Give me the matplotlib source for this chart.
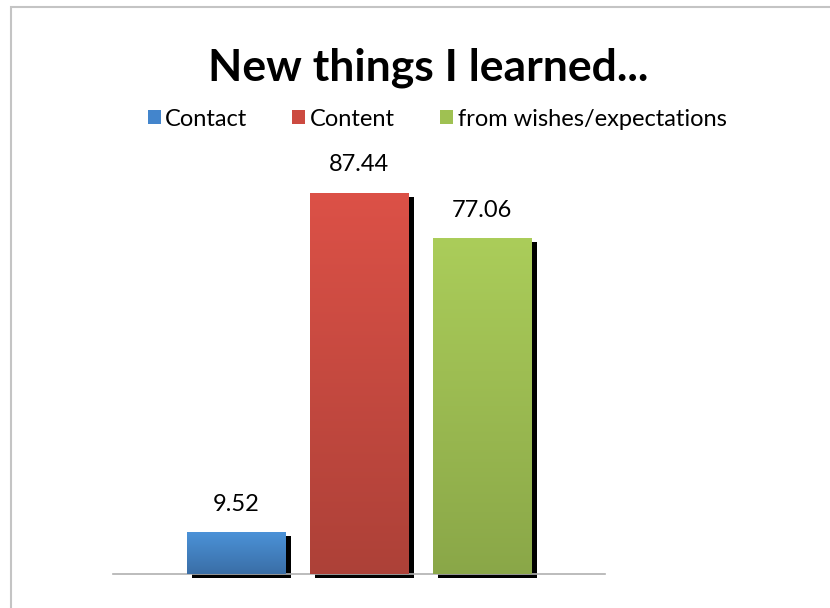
import matplotlib
matplotlib.use("Agg")
import matplotlib.pyplot as plt
import matplotlib.transforms as mtransforms
import matplotlib.patches as mpatches
import numpy as np
from matplotlib.colors import LinearSegmentedColormap

series = ["Contact", "Content", "from wishes/expectations"]
values = [9.52, 87.44, 77.06]
top_colors = ["#4b92d8", "#dc5147", "#abcd5a"]
bot_colors = ["#3a6ea6", "#ad4138", "#8aa748"]
legend_colors = ["#4385cc", "#cc4a40", "#9fc152"]

plt.rcParams['font.family'] = ['Lato', 'DejaVu Sans']

fig = plt.figure(figsize=(8.3, 6.08), dpi=100)
W, H = 830, 608
ax = fig.add_axes([113/W, (H-574)/H, (605-113)/W, (574-138)/H])
ax.set_xlim(-1, 3)
ax.set_ylim(0, 100)
ax.axis('off')

x = np.arange(len(values))
width = 99/123

# shadows
shadow_tr = mtransforms.offset_copy(ax.transData, fig=fig, x=5/100*72, y=-4/100*72, units='points')
shadows = ax.bar(x, values, width=width, color='black', zorder=1, transform=shadow_tr)
for s in shadows:
    s.set_clip_on(False)

ax.axhline(0, color='#b0b0b0', lw=1.2, zorder=2, clip_on=False)

bars = ax.bar(x, values, width=width, color=top_colors, zorder=3)
grad = np.linspace(0, 1, 256).reshape(-1, 1)
for b, tc, bc in zip(bars, top_colors, bot_colors):
    cmap = LinearSegmentedColormap.from_list('g', [bc, tc])
    x0, y0 = b.get_x(), b.get_y()
    im = ax.imshow(grad, cmap=cmap, aspect='auto', origin='lower',
                   extent=[x0, x0 + b.get_width(), y0, y0 + b.get_height()], zorder=4)
    im.set_clip_path(b)

for xi, v in zip(x, values):
    ax.annotate(f"{v:.2f}", (xi, v), xytext=(0, 20), textcoords='offset points',
                ha='center', va='center', fontsize=17, color='black')

ax.set_xlim(-1, 3)
ax.set_ylim(0, 100)

fig.text(428/W, 1 - 68/H, "New things I learned...", ha='center', va='center',
         fontsize=32, fontweight='bold')

handles = [mpatches.Patch(facecolor=c, edgecolor='none') for c in legend_colors]
leg = fig.legend(handles, series, loc='center', bbox_to_anchor=(437/W, 1 - 119/H),
                 ncol=3, frameon=False, fontsize=17, handlelength=0.55, handleheight=0.55,
                 handletextpad=0.2, columnspacing=1.9, borderpad=0, borderaxespad=0)

border = mpatches.Rectangle((10.5/W, -0.1), 1.2, 1 - 6.5/H + 0.1, transform=fig.transFigure,
                            fill=False, edgecolor='#c4c4c4', lw=1.5)
fig.add_artist(border)

fig.savefig("out.png", dpi=100, facecolor='white')
